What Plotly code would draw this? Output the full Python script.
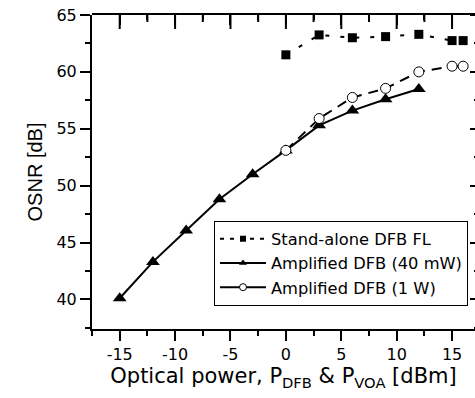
import plotly.graph_objects as go

x_sa = [0, 3, 6, 9, 12, 15, 16]
y_sa = [61.5, 63.25, 63.0, 63.1, 63.3, 62.75, 62.75]

x_a40 = [-15, -12, -9, -6, -3, 0, 3, 6, 9, 12]
y_a40 = [40.1, 43.3, 46.05, 48.8, 51.0, 53.1, 55.3, 56.6, 57.6, 58.5]

x_a1w = [0, 3, 6, 9, 12, 15, 16]
y_a1w = [53.1, 55.9, 57.75, 58.55, 60.0, 60.5, 60.5]

names = ["Stand-alone DFB FL", "Amplified DFB (40 mW)", "Amplified DFB (1 W)"]
xticks = [-15, -10, -5, 0, 5, 10, 15]
xticktext = ["-15", "-10", "-5", "0", "5", "10", "15"]
yticks = [40, 45, 50, 55, 60, 65]
yticktext = ["40", "45", "50", "55", "60", "65"]

HFONT = "DejaVu Sans, Liberation Sans, Arial, sans-serif"
VFONT = "Liberation Sans, Arial, sans-serif"
XR = [-17.5, 17.07]
YR = [37.4, 65]

fig = go.Figure()

fig.add_trace(go.Scatter(x=x_sa, y=y_sa, mode="lines+markers", showlegend=False,
                         line=dict(color="black", width=2, dash="4px,11px"),
                         marker=dict(symbol="square", size=9, color="black")))
fig.add_trace(go.Scatter(x=x_a40, y=y_a40, mode="lines+markers", showlegend=False,
                         line=dict(color="black", width=2),
                         marker=dict(symbol="triangle-up", size=12, color="black")))
fig.add_trace(go.Scatter(x=x_a1w, y=y_a1w, mode="lines+markers", showlegend=False,
                         line=dict(color="black", width=2, dash="10px,7px"),
                         marker=dict(symbol="circle", size=10, color="white",
                                     line=dict(color="black", width=1))))

fig.add_trace(go.Scatter(x=[None], y=[None], mode="lines+markers", name=names[0],
                         line=dict(color="black", width=2, dash="4px,6px"),
                         marker=dict(symbol="square", size=6, color="black")))
fig.add_trace(go.Scatter(x=[None], y=[None], mode="lines+markers", name=names[1],
                         line=dict(color="black", width=2),
                         marker=dict(symbol="triangle-up", size=7, color="black")))
fig.add_trace(go.Scatter(x=[None], y=[None], mode="lines+markers", name=names[2],
                         line=dict(color="black", width=2),
                         marker=dict(symbol="circle", size=7, color="white",
                                     line=dict(color="black", width=1))))

# top-frame tick marks: vertical line markers centred on the top edge, clipped to the plot
x_minor = [v + 2.5 for v in xticks[:-1]]
fig.add_trace(go.Scatter(x=xticks, y=[YR[1]] * len(xticks), mode="markers",
                         cliponaxis=True, showlegend=False, hoverinfo="skip",
                         marker=dict(symbol="line-ns", size=20, color="black",
                                     line=dict(color="black", width=2))))
fig.add_trace(go.Scatter(x=x_minor, y=[YR[1]] * len(x_minor), mode="markers",
                         cliponaxis=True, showlegend=False, hoverinfo="skip",
                         marker=dict(symbol="line-ns", size=10, color="black",
                                     line=dict(color="black", width=2))))

# invisible helper traces that activate the frame axes
fig.add_trace(go.Scatter(x=[XR[0], XR[1]], y=[YR[0], YR[1]], xaxis="x", yaxis="y2",
                         mode="markers", marker=dict(size=1, opacity=0),
                         showlegend=False, hoverinfo="skip"))
fig.add_trace(go.Scatter(x=[XR[0], XR[1]], y=[YR[0], YR[1]], xaxis="x2", yaxis="y3",
                         mode="markers", marker=dict(size=1, opacity=0),
                         showlegend=False, hoverinfo="skip"))

fig.update_layout(
    width=475, height=398,
    margin=dict(l=92, r=0, t=15, b=69),
    paper_bgcolor="white", plot_bgcolor="rgba(0,0,0,0)",
    font=dict(family=HFONT, color="black", size=16),
    showlegend=True,
    legend=dict(x=0.3185, y=0.345, xanchor="left", yanchor="top",
                bordercolor="black", borderwidth=1, bgcolor="white",
                font=dict(size=16.3, family=HFONT), tracegroupgap=0,
                itemwidth=46),
    xaxis=dict(range=XR, tickvals=xticks, ticktext=xticktext, ticks="outside",
               ticklen=10, tickwidth=2,
               tickcolor="black", showline=True, linewidth=2, linecolor="black",
               showgrid=False, zeroline=False, tickfont=dict(size=16, family=HFONT),
               minor=dict(dtick=2.5, tick0=0, ticks="outside", ticklen=5, tickwidth=2,
                          tickcolor="black", showgrid=False),
               title=dict(text="Optical power, P<sub>DFB</sub> & P<sub>VOA</sub> [dBm]",
                          font=dict(size=21, family=HFONT), standoff=2)),
    yaxis=dict(range=YR, tickvals=yticks, ticktext=yticktext, ticks="outside",
               ticklen=10, tickwidth=2,
               tickcolor="black", showline=True, linewidth=2, linecolor="black",
               showgrid=False, zeroline=False, tickfont=dict(size=16, family=HFONT),
               minor=dict(dtick=2.5, tick0=0, ticks="outside", ticklen=5, tickwidth=2,
                          tickcolor="black", showgrid=False),
               title=dict(text="OSNR [dB]", font=dict(size=20, family=VFONT), standoff=8)),
    # top frame axis line
    xaxis2=dict(range=XR, domain=[0, 1], anchor="y3", side="top",
                tickvals=xticks, ticks="inside",
                ticklen=10, tickwidth=2, tickcolor="black", showline=True, linewidth=2,
                linecolor="black", showticklabels=False, showgrid=False, zeroline=False,
                minor=dict(dtick=2.5, tick0=0, ticks="inside", ticklen=5, tickwidth=2,
                           tickcolor="black", showgrid=False)),
    yaxis3=dict(range=YR, domain=[0, 1], anchor="x2", visible=False,
                showgrid=False, zeroline=False),
    # right frame axis
    yaxis2=dict(range=YR, overlaying="y", side="left", anchor="free", position=1,
                tickvals=yticks, ticks="outside",
                ticklen=5, tickwidth=2, tickcolor="black", showline=False,
                showticklabels=False, showgrid=False, zeroline=False,
                minor=dict(dtick=2.5, tick0=0, ticks="outside", ticklen=1, tickwidth=2,
                           tickcolor="black", showgrid=False)),
)

fig.write_html("out.html")
